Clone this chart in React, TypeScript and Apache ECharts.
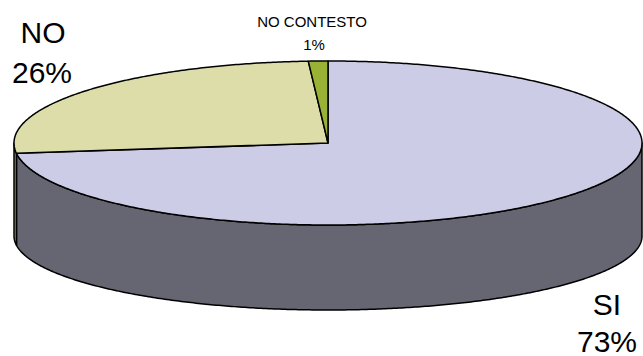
import React, { useEffect, useRef } from "react";
import * as echarts from "echarts";

const names = ["SI", "NO", "NO CONTESTO"];
const values = [73, 26, 1];

const topColors = ["#CCCCE6", "#DDDDAA", "#99B236"];
const sideColors = ["#666673", "#8C8C62", "#5A6A1E"];

const G = { cx: 328, cy: 143, rx: 314, ry: 82, by: 236, bry: 74 };

function topPt(t: number): number[] {
  return [G.cx + G.rx * Math.sin(t), G.cy - G.ry * Math.cos(t)];
}
function botPt(t: number): number[] {
  return [G.cx + G.rx * Math.sin(t), G.by - G.bry * Math.cos(t)];
}
function arc(a: number, b: number, f: (t: number) => number[]): number[][] {
  const n = Math.max(2, Math.ceil(((b - a) * 180) / Math.PI * 2));
  const pts: number[][] = [];
  for (let i = 0; i <= n; i++) pts.push(f(a + ((b - a) * i) / n));
  return pts;
}

export default function App() {
  const ref = useRef<HTMLDivElement>(null);
  useEffect(() => {
    if (!ref.current) return;
    const chart = echarts.init(ref.current, undefined, { renderer: "svg" });
    const total = values.reduce((s, v) => s + v, 0);
    const starts: number[] = [];
    let acc = 0;
    values.forEach((v) => {
      starts.push(acc);
      acc += v;
    });

    const renderItem = (params: any, api: any) => {
      const i = params.dataIndex;
      const v = api.value(0);
      const a0 = (starts[i] / total) * Math.PI * 2;
      const a1 = a0 + (v / total) * Math.PI * 2;
      const children: any[] = [];
      const s = Math.max(a0, Math.PI / 2);
      const e = Math.min(a1, (Math.PI * 3) / 2);
      if (e > s) {
        const pts = arc(s, e, topPt).concat(arc(s, e, botPt).reverse());
        children.push({
          type: "polygon",
          z2: 1,
          shape: { points: pts },
          style: { fill: sideColors[i], stroke: "#000", lineWidth: 1.5, lineJoin: "round" },
        });
      }
      const tp = [[G.cx, G.cy]].concat(arc(a0, a1, topPt));
      children.push({
        type: "polygon",
        z2: 10,
        shape: { points: tp },
        style: { fill: topColors[i], stroke: "#000", lineWidth: 1.5, lineJoin: "round" },
      });
      return { type: "group", children };
    };

    const pct = (i: number) => `${Math.round((values[i] / total) * 100)}%`;
    const big = { fontFamily: "Liberation Sans, Arial", fontSize: 30, fill: "#000" };
    const small = { fontFamily: "Liberation Sans, Arial", fontSize: 15, fill: "#000" };

    chart.setOption({
      animation: false,
      series: [
        {
          type: "custom",
          coordinateSystem: "none",
          renderItem,
          data: values.map((v, i) => ({ name: names[i], value: v })),
          silent: true,
        },
      ],
      graphic: [
        { type: "text", x: 43, y: 32, style: { ...big, text: names[1], align: "center", verticalAlign: "middle" } },
        { type: "text", x: 42, y: 72, style: { ...big, text: pct(1), align: "center", verticalAlign: "middle" } },
        { type: "text", x: 607, y: 304, style: { ...big, text: names[0], align: "center", verticalAlign: "middle" } },
        { type: "text", x: 607, y: 341, style: { ...big, text: pct(0), align: "center", verticalAlign: "middle" } },
        { type: "text", x: 312, y: 21, style: { ...small, text: names[2], align: "center", verticalAlign: "middle" } },
        { type: "text", x: 314, y: 44, style: { ...small, text: pct(2), align: "center", verticalAlign: "middle" } },
      ],
    });
    return () => chart.dispose();
  }, []);
  return <div ref={ref} style={{ position: "absolute", left: 0, top: 0, width: 643, height: 356 }} />;
}
